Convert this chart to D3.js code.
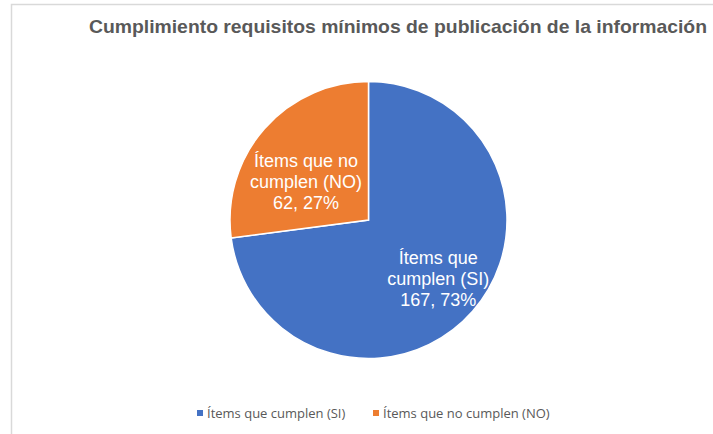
<!DOCTYPE html>
<html>
<head>
<meta charset="utf-8">
<script src="https://cdn.jsdelivr.net/npm/d3@7"></script>
<style>
  body { margin: 0; background: #fff; }
  svg { display: block; }
</style>
</head>
<body>
<div id="chart"></div>
<script>
const width = 713,
    height = 434,
    radius = 138.5;

const categories = ["Ítems que cumplen (SI)", "Ítems que no cumplen (NO)"];
const labelLines = [["Ítems que", "cumplen (SI)"], ["Ítems que no", "cumplen (NO)"]];
const values = [167, 62];
const colors = ["#4472c4", "#ed7d31"];

const total = d3.sum(values);

const svg = d3.select("#chart")
    .append("svg")
    .attr("width", width)
    .attr("height", height);

// light frame of the chart area (only top and left are visible in the crop)
svg.append("path")
    .attr("d", "M11.5,434 V4.5 H713")
    .attr("fill", "none")
    .attr("stroke", "#d9d9d9")
    .attr("stroke-width", 1.5);

svg.append("text")
    .attr("x", 89)
    .attr("y", 33)
    .attr("fill", "#595959")
    .attr("font-family", "Liberation Sans, Arial, sans-serif")
    .attr("font-weight", "bold")
    .attr("font-size", 19)
    .attr("textLength", 618)
    .attr("lengthAdjust", "spacingAndGlyphs")
    .text("Cumplimiento requisitos mínimos de publicación de la información");

const pie = d3.pie().sort(null).value(d => d)(values);
const arc = d3.arc().innerRadius(0).outerRadius(radius);

const g = svg.append("g")
    .attr("transform", `translate(${368.5}, ${220})`);

g.selectAll("path.slice")
    .data(pie)
    .join("path")
    .attr("class", "slice")
    .attr("d", arc)
    .attr("fill", (d, i) => colors[i])
    .attr("stroke", "#fff")
    .attr("stroke-width", 1.5);

// label placement inside each slice (radius factor, vertical nudge)
const labelRadius = [0.67, 0.60];
const labelDy = [-2, 17];

g.selectAll("text.label")
    .data(pie)
    .join("text")
    .attr("class", "label")
    .attr("transform", (d, i) => {
        const la = d3.arc().innerRadius(radius * labelRadius[i]).outerRadius(radius * labelRadius[i]);
        const [x, y] = la.centroid(d);
        return `translate(${x}, ${y + labelDy[i]})`;
    })
    .attr("text-anchor", "middle")
    .attr("fill", "#fff")
    .attr("font-family", "Liberation Sans, Arial, sans-serif")
    .attr("font-size", 18)
    .each(function (d, i) {
        const t = d3.select(this);
        const lines = labelLines[i].concat([`${values[i]}, ${Math.round(values[i] / total * 100)}%`]);
        lines.forEach((l, j) => {
            t.append("tspan")
                .attr("x", 0)
                .attr("y", (j - 1) * 21 + 6)
                .text(l);
        });
    });

// legend
const legend = svg.append("g")
    .attr("transform", `translate(${197}, ${413})`);

const items = legend.selectAll("g")
    .data(categories)
    .join("g")
    .attr("transform", (d, i) => `translate(${i * 176}, 0)`);

items.append("rect")
    .attr("x", 0)
    .attr("y", -3)
    .attr("width", 6)
    .attr("height", 6)
    .attr("fill", (d, i) => colors[i]);

items.append("text")
    .attr("x", 10)
    .attr("y", 4.5)
    .attr("fill", "#595959")
    .attr("font-family", "Open Sans, Noto Sans, sans-serif")
    .attr("font-size", 13)
    .text(d => d);
</script>
</body>
</html>
